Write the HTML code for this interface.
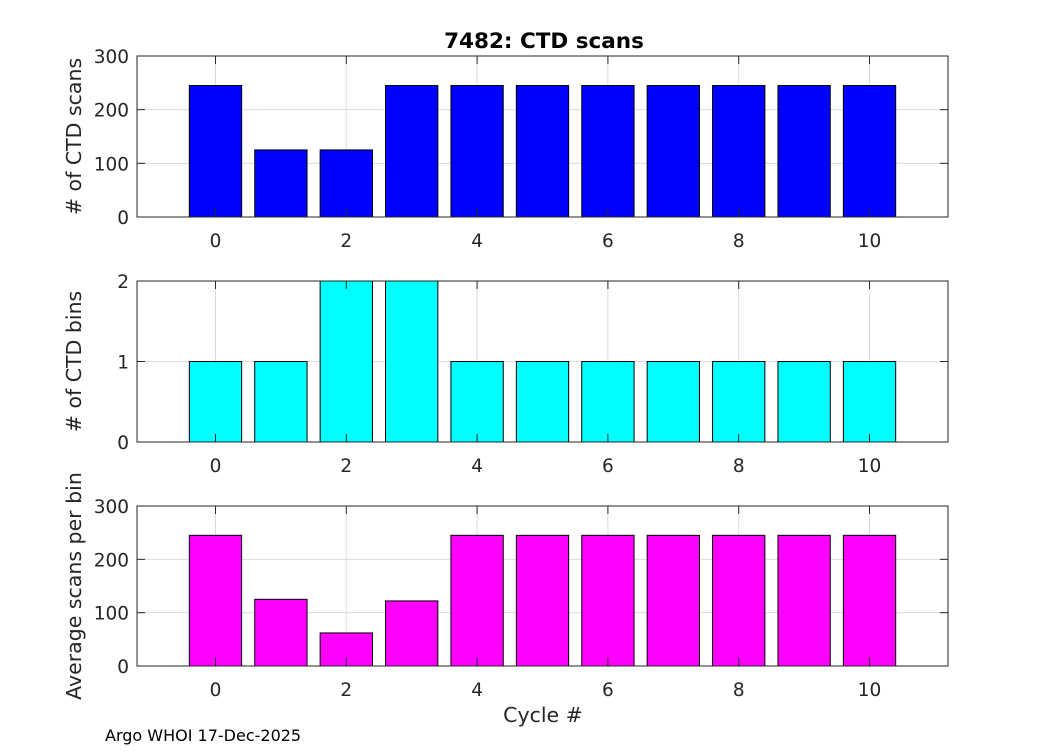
<!DOCTYPE html>
<html><head><meta charset="utf-8"><style>
body{margin:0;background:#fff;}
svg text{font-family:"DejaVu Sans","Liberation Sans",sans-serif;fill:#262626;}
</style></head><body>
<svg id="c" width="1050" height="750" xmlns="http://www.w3.org/2000/svg">
<rect width="1050" height="750" fill="#fff"/>
<text x="544" y="48" text-anchor="middle" font-size="21.5" font-weight="bold" style="fill:#000">7482: CTD scans</text>
<text x="543" y="722" text-anchor="middle" font-size="20.5">Cycle #</text>
<text x="105" y="741" font-size="16" style="fill:#000">Argo WHOI 17-Dec-2025</text>
</svg>
<script>
const cycles=[0,1,2,3,4,5,6,7,8,9,10];
const scans=[245,125,125,245,245,245,245,245,245,245,245];
const bins=[1,1,2,2,1,1,1,1,1,1,1];
const avgScans=[245,125,62,122,245,245,245,245,245,245,245];
const xTicks=[0,2,4,6,8,10];
const ticksScans=[0,100,200,300];
const ticksBins=[0,1,2];
const NS='http://www.w3.org/2000/svg';
const svg=document.getElementById('c');
const X0=137,X1=948,xmin=-1.2,xmax=11.2;
const xs=v=>X0+(v-xmin)/(xmax-xmin)*(X1-X0);
function el(t,a,p){const e=document.createElementNS(NS,t);for(const k in a)e.setAttribute(k,a[k]);(p||svg).appendChild(e);return e;}
function panel(name,top,bot,ymax,vals,yticks,color,ylabel){
  const g=el('g',{});
  
  
  const ys=v=>bot-v/ymax*(bot-top);
  xTicks.forEach(t=>{const l=el('line',{x1:xs(t),x2:xs(t),y1:top,y2:bot,stroke:'#dcdcdc','stroke-width':1},g);
    });
  yticks.forEach(t=>{const l=el('line',{x1:X0,x2:X1,y1:ys(t),y2:ys(t),stroke:'#dcdcdc','stroke-width':1},g);
    });
  cycles.forEach((c,i)=>{const r=el('rect',{x:xs(c-0.4),y:ys(vals[i]),width:xs(c+0.4)-xs(c-0.4),height:bot-ys(vals[i]),fill:color,stroke:'#000','stroke-width':1},g);
    });
  const b=el('rect',{x:X0,y:top,width:X1-X0,height:bot-top,fill:'none',stroke:'#262626','stroke-width':1},g);
  
  xTicks.forEach(t=>{
    el('line',{x1:xs(t),x2:xs(t),y1:bot,y2:bot-8,stroke:'#262626'},g);
    el('line',{x1:xs(t),x2:xs(t),y1:top,y2:top+8,stroke:'#262626'},g);
    const tx=el('text',{x:xs(t),y:bot+30,'text-anchor':'middle','font-size':18.5},g);tx.textContent=t;
    });
  yticks.forEach(t=>{
    el('line',{x1:X0,x2:X0+8,y1:ys(t),y2:ys(t),stroke:'#262626'},g);
    el('line',{x1:X1,x2:X1-8,y1:ys(t),y2:ys(t),stroke:'#262626'},g);
    const tx=el('text',{x:X0-8,y:ys(t)+7,'text-anchor':'end','font-size':18.5},g);tx.textContent=t;
    });
  const yl=el('text',{x:0,y:0,'text-anchor':'middle','font-size':20.5,transform:`translate(81,${(top+bot)/2}) rotate(-90)`},g);
  yl.textContent=ylabel;
  
}
panel('scans',56,217,300,scans,ticksScans,'#0000ff','# of CTD scans');
panel('bins',281,442,2,bins,ticksBins,'#00ffff','# of CTD bins');
panel('avg',506,666,300,avgScans,ticksScans,'#ff00ff','Average scans per bin');
</script>
</body></html>
